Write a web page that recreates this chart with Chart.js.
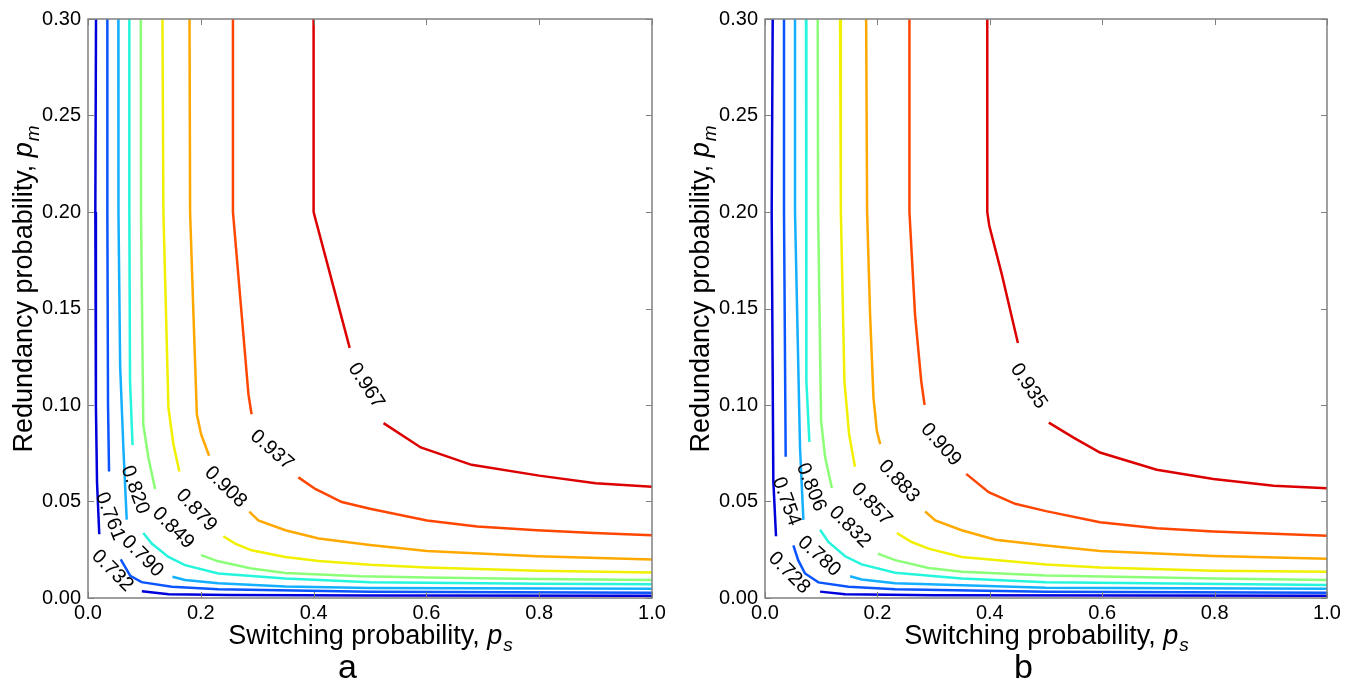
<!DOCTYPE html>
<html>
<head>
<meta charset="utf-8">
<script src="https://cdn.jsdelivr.net/npm/chart.js@4.4.1/dist/chart.umd.min.js"></script>
<style>
  html, body { margin: 0; padding: 0; background: #fff; }
  #wrap { position: relative; width: 1355px; height: 684px; }
  .panel { position: absolute; top: 0; height: 684px; }
  canvas { display: block; }
</style>
</head>
<body>
<div id="wrap">
  <div class="panel" style="left:0;width:677px"><canvas id="chartA" width="677" height="684"></canvas></div>
  <div class="panel" style="left:677px;width:678px"><canvas id="chartB" width="678" height="684"></canvas></div>
</div>
<script>
// contour levels, left (a) and right (b)
const levelsA = [0.732, 0.761, 0.790, 0.820, 0.849, 0.879, 0.908, 0.937, 0.967];
const levelsB = [0.728, 0.754, 0.780, 0.806, 0.832, 0.857, 0.883, 0.909, 0.935];

// contour lines as [ps, pm] points, null = gap where the label sits
const curveA1 = [[0.0142,0.30],[0.0130,0.20],[0.0140,0.10],[0.0160,0.06],[0.020,0.033],null,[0.0955,0.0035],[0.143,0.0020],[0.25,0.0015],[0.5,0.0013],[1.0,0.0012]];
const curveA2 = [[0.0343,0.30],[0.0343,0.20],[0.0355,0.10],[0.0373,0.0655],null,[0.058,0.020],[0.075,0.0115],[0.095,0.0082],[0.1485,0.0058],[0.231,0.0045],[0.5,0.0033],[1.0,0.0027]];
const curveA3 = [[0.0538,0.30],[0.0540,0.20],[0.0570,0.12],[0.0627,0.078],[0.0686,0.0406],null,[0.1497,0.011],[0.172,0.0093],[0.231,0.0076],[0.35,0.0060],[0.5,0.0052],[1.0,0.0048]];
const curveA4 = [[0.0733,0.30],[0.0733,0.20],[0.0745,0.1124],[0.079,0.0792],null,[0.098,0.0337],[0.113,0.0282],[0.1426,0.0213],[0.172,0.0170],[0.231,0.0127],[0.35,0.0101],[0.5,0.0082],[0.8,0.0074],[1.0,0.0071]];
const curveA5 = [[0.0935,0.30],[0.094,0.20],[0.098,0.090],[0.107,0.0728],[0.119,0.0565],null,[0.2005,0.0222],[0.231,0.0190],[0.290,0.0153],[0.350,0.0130],[0.483,0.0113],[0.601,0.0106],[0.796,0.0098],[1.0,0.0093]];
const curveA6 = [[0.132,0.30],[0.1337,0.20],[0.1426,0.0986],[0.1514,0.0797],[0.162,0.0655],null,[0.240,0.032],[0.261,0.0282],[0.290,0.0247],[0.350,0.0213],[0.409,0.0192],[0.5,0.0172],[0.601,0.0158],[0.796,0.0141],[1.0,0.0132]];
const curveA7 = [[0.180,0.30],[0.181,0.20],[0.187,0.1467],[0.193,0.0952],[0.2005,0.0849],[0.2147,0.0737],null,[0.286,0.0448],[0.302,0.0402],[0.350,0.0351],[0.409,0.0308],[0.5,0.0275],[0.601,0.0244],[0.796,0.0216],[1.0,0.0199]];
const curveA8 = [[0.257,0.30],[0.257,0.20],[0.2845,0.1055],[0.290,0.0952],null,[0.373,0.0625],[0.403,0.0565],[0.450,0.0497],[0.5,0.0462],[0.601,0.0402],[0.690,0.0371],[0.796,0.0351],[0.897,0.0337],[1.0,0.0325]];
const curveA9 = [[0.40,0.30],[0.40,0.20],[0.464,0.1296],null,[0.524,0.0906],[0.59,0.078],[0.68,0.069],[0.80,0.0634],[0.90,0.0594],[1.0,0.0577]];

const curveB1 = [[0.0137,0.30],[0.0119,0.20],[0.0148,0.0608],[0.0196,0.032],null,[0.098,0.0033],[0.1425,0.0019],[0.3,0.0014],[1.0,0.0012]];
const curveB2 = [[0.0338,0.30],[0.0338,0.20],[0.0368,0.0732],null,[0.0505,0.0273],[0.059,0.0196],[0.0713,0.0127],[0.095,0.0081],[0.1485,0.0058],[0.2316,0.0045],[0.5,0.0033],[1.0,0.0027]];
const curveB3 = [[0.0534,0.30],[0.0534,0.20],[0.0623,0.078],[0.0683,0.0405],null,[0.1514,0.0113],[0.172,0.0096],[0.2316,0.0076],[0.5,0.0053],[1.0,0.0048]];
const curveB4 = [[0.073,0.30],[0.073,0.20],[0.0742,0.1124],[0.079,0.0809],null,[0.098,0.0354],[0.1128,0.029],[0.1425,0.0216],[0.172,0.0174],[0.2316,0.0131],[0.350,0.0101],[0.5,0.0081],[1.0,0.0067]];
const curveB5 = [[0.0938,0.30],[0.0945,0.20],[0.0998,0.0918],[0.107,0.0729],[0.119,0.057],null,[0.2007,0.023],[0.2316,0.0196],[0.291,0.0156],[0.350,0.0136],[0.5,0.0117],[0.8,0.0101],[1.0,0.0093]];
const curveB6 = [[0.1336,0.30],[0.135,0.20],[0.1413,0.1124],[0.1496,0.0849],[0.160,0.068],null,[0.2346,0.0337],[0.261,0.029],[0.291,0.0256],[0.350,0.0213],[0.5,0.0173],[0.596,0.0158],[0.798,0.0141],[1.0,0.0136]];
const curveB7 = [[0.180,0.30],[0.1817,0.20],[0.187,0.1467],[0.193,0.1038],[0.199,0.0866],[0.205,0.0797],null,[0.285,0.0448],[0.303,0.0402],[0.350,0.0351],[0.410,0.0302],[0.5,0.0272],[0.596,0.0244],[0.798,0.0218],[1.0,0.0203]];
const curveB8 = [[0.257,0.30],[0.257,0.20],[0.267,0.1467],[0.278,0.1124],[0.284,0.100],null,[0.358,0.0643],[0.398,0.0548],[0.445,0.0488],[0.5,0.0450],[0.596,0.0393],[0.697,0.0362],[0.798,0.0345],[1.0,0.0323]];
const curveB9 = [[0.3955,0.30],[0.3955,0.20],[0.399,0.193],[0.4216,0.1674],[0.450,0.1321],null,[0.505,0.0909],[0.549,0.0831],[0.596,0.0754],[0.697,0.0665],[0.798,0.0617],[0.905,0.0582],[1.0,0.0569]];

// where each contour label sits [ps, pm]
const labelPosA = [[0.0432,0.0141],[0.039,0.0423],[0.0964,0.0216],[0.0834,0.056],[0.151,0.0362],[0.192,0.0454],[0.244,0.0574],[0.326,0.0767],[0.493,0.110]];
const labelPosB = [[0.0428,0.013],[0.038,0.050],[0.0962,0.0216],[0.082,0.0574],[0.151,0.0368],[0.1895,0.0485],[0.238,0.0605],[0.313,0.0794],[0.469,0.1098]];

const xTicks = [0, 0.2, 0.4, 0.6, 0.8, 1.0];
const yTicks = [0, 0.05, 0.10, 0.15, 0.20, 0.25, 0.30];

const labelAngleA = [45, 68, 45, 70, 45, 47, 44, 41, 57];
const labelAngleB = [45, 70, 42, 68, 45, 47, 47, 48, 56];
const colors = ['#0000dc', '#0a55ff', '#14b0ff', '#25f5dc', '#8cff78', '#f0f000', '#ffa800', '#ff4600', '#dc0000'];
const FONT = "'Liberation Sans', Arial, sans-serif";

const toPoints = arr => arr.map((p, i) => p ? { x: p[0], y: p[1] } : { x: arr[i - 1][0], y: null });

const drawRich = (ctx, cx, base, text, sym, sub) => {
    ctx.font = '27px ' + FONT;
    const w1 = ctx.measureText(text).width;
    ctx.font = 'italic 27px ' + FONT;
    const w2 = ctx.measureText(sym).width;
    ctx.font = 'italic 19px ' + FONT;
    const w3 = ctx.measureText(sub).width;
    let x0 = cx - (w1 + w2 + w3) / 2;
    ctx.textAlign = 'left';
    ctx.textBaseline = 'alphabetic';
    ctx.font = '27px ' + FONT;
    ctx.fillText(text, x0, base);
    ctx.font = 'italic 27px ' + FONT;
    ctx.fillText(sym, x0 + w1, base);
    ctx.font = 'italic 19px ' + FONT;
    ctx.fillText(sub, x0 + w1 + w2 + 1, base + 7);
}

const decor = {
    id: 'decor',
    afterDatasetsDraw(chart, args, opts) {
        const { ctx, chartArea: a, scales: { x, y } } = chart;
        ctx.save();
        ctx.strokeStyle = '#808080';
        ctx.lineWidth = 1.5;
        ctx.strokeRect(a.left, a.top, a.right - a.left, a.bottom - a.top);
        ctx.beginPath();
        x.ticks.forEach(t => {
            const px = Math.round(x.getPixelForValue(t.value)) + 0.5;
            ctx.moveTo(px, a.bottom); ctx.lineTo(px, a.bottom - 6);
            ctx.moveTo(px, a.top); ctx.lineTo(px, a.top + 6);
        });
        y.ticks.forEach(t => {
            const py = Math.round(y.getPixelForValue(t.value)) + 0.5;
            ctx.moveTo(a.left, py); ctx.lineTo(a.left + 6, py);
            ctx.moveTo(a.right, py); ctx.lineTo(a.right - 6, py);
        });
        ctx.lineWidth = 1;
        ctx.stroke();

        // contour labels
        ctx.fillStyle = '#000';
        ctx.font = '20px ' + FONT;
        ctx.textAlign = 'center';
        ctx.textBaseline = 'middle';
        opts.levels.forEach((lv, i) => {
            const [lx, ly] = opts.pos[i];
            ctx.save();
            ctx.translate(x.getPixelForValue(lx), y.getPixelForValue(ly));
            ctx.rotate(opts.angle[i] * Math.PI / 180);
            ctx.fillText(lv.toFixed(3), 0, 0);
            ctx.restore();
        });

        // axis titles
        const cx = (a.left + a.right) / 2;
        drawRich(ctx, cx, 644, 'Switching probability, ', 'p', 's');
        ctx.save();
        ctx.translate(32, (a.top + a.bottom) / 2 - 19);
        ctx.rotate(-Math.PI / 2);
        drawRich(ctx, 0, 0, 'Redundancy probability, ', 'p', 'm');
        ctx.restore();

        // panel letter
        ctx.font = '34px ' + FONT;
        ctx.textAlign = 'center';
        ctx.textBaseline = 'alphabetic';
        ctx.fillText(opts.letter, a.left + (a.right - a.left) * 0.46, 678);
        ctx.restore();
    }
};

const makeChart = (id, curves, levels, pos, angle, letter, padRight) => {
    const datasets = curves.map((c, i) => ({
        label: levels[i].toFixed(3),
        data: toPoints(c),
        borderColor: colors[i],
        borderWidth: 2.5,
        pointRadius: 0,
        tension: 0,
        spanGaps: false
    }));
    return new Chart(document.getElementById(id), {
        type: 'line',
        data: { datasets },
        plugins: [decor],
        options: {
            responsive: false,
            animation: false,
            layout: { padding: { top: 16, right: padRight, left: 0, bottom: 0 } },
            plugins: {
                legend: { display: false },
                tooltip: { enabled: false },
                decor: { levels, pos, angle, letter }
            },
            scales: {
                x: {
                    type: 'linear', min: 0, max: 1,
                    afterFit: s => { s.height = 86; },
                    afterBuildTicks: s => { s.ticks = xTicks.map(v => ({ value: v })); },
                    grid: { display: false, drawTicks: false },
                    border: { display: false },
                    ticks: { padding: 3, color: '#000', maxRotation: 0, autoSkip: false, font: { family: FONT, size: 20 }, callback: v => v.toFixed(1) }
                },
                y: {
                    type: 'linear', min: 0, max: 0.3,
                    afterFit: s => { s.width = 88; },
                    afterBuildTicks: s => { s.ticks = yTicks.map(v => ({ value: v })); },
                    grid: { display: false, drawTicks: false },
                    border: { display: false },
                    ticks: { padding: 7, color: '#000', autoSkip: false, font: { family: FONT, size: 20 }, callback: v => v.toFixed(2) }
                }
            }
        }
    });
}

makeChart('chartA', [curveA1, curveA2, curveA3, curveA4, curveA5, curveA6, curveA7, curveA8, curveA9], levelsA, labelPosA, labelAngleA, 'a', 25);
makeChart('chartB', [curveB1, curveB2, curveB3, curveB4, curveB5, curveB6, curveB7, curveB8, curveB9], levelsB, labelPosB, labelAngleB, 'b', 28);
</script>
</body>
</html>
